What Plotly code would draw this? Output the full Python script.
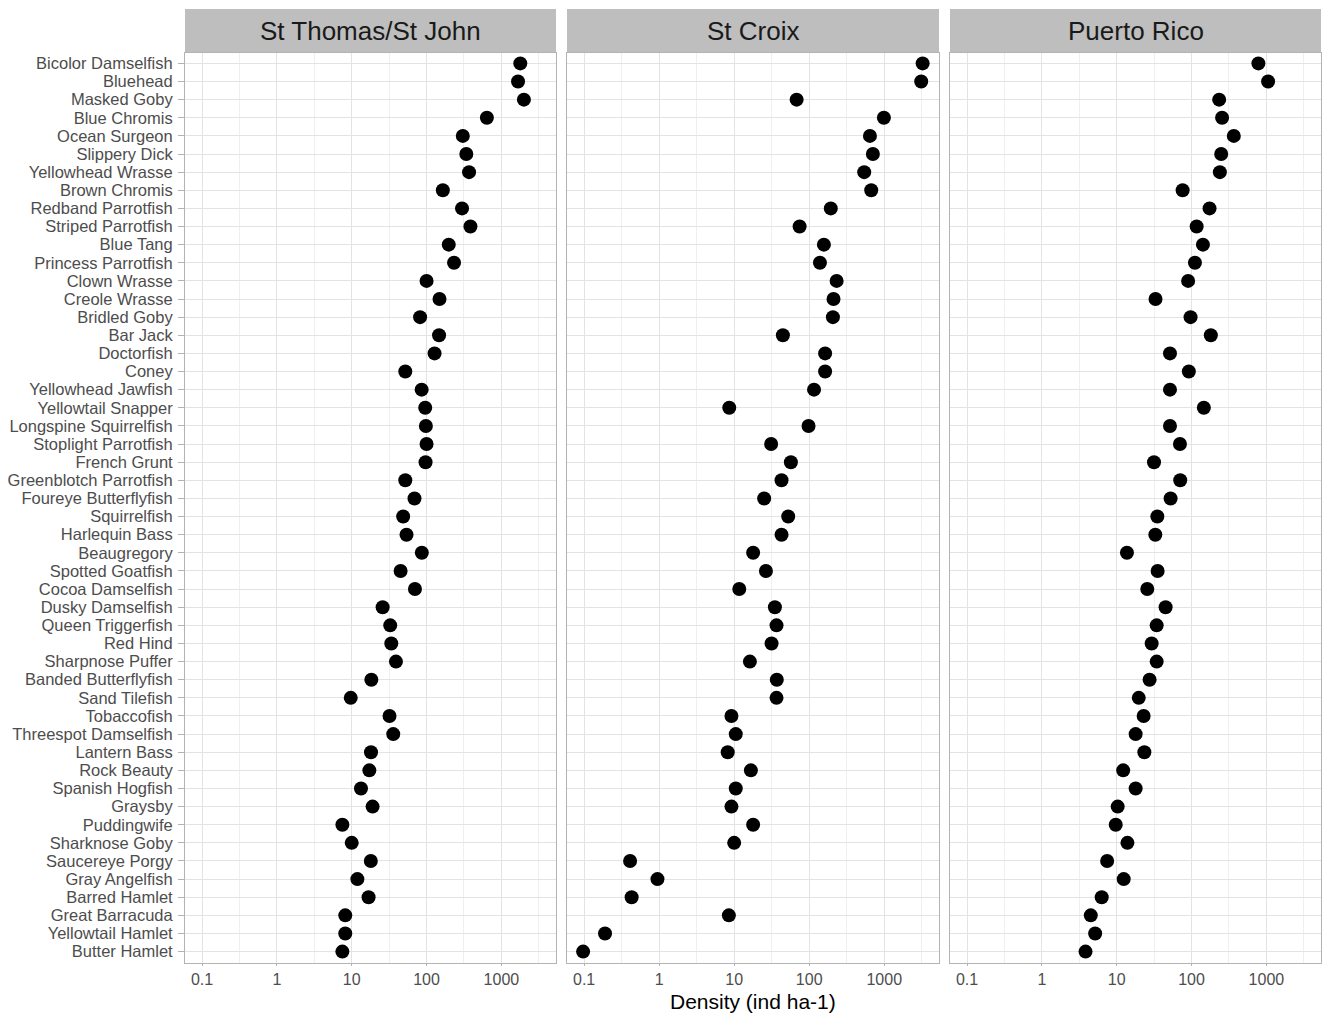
import plotly.graph_objects as go

species = ["Bicolor Damselfish", "Bluehead", "Masked Goby", "Blue Chromis", "Ocean Surgeon",
           "Slippery Dick", "Yellowhead Wrasse", "Brown Chromis", "Redband Parrotfish", "Striped Parrotfish",
           "Blue Tang", "Princess Parrotfish", "Clown Wrasse", "Creole Wrasse", "Bridled Goby",
           "Bar Jack", "Doctorfish", "Coney", "Yellowhead Jawfish", "Yellowtail Snapper",
           "Longspine Squirrelfish", "Stoplight Parrotfish", "French Grunt", "Greenblotch Parrotfish", "Foureye Butterflyfish",
           "Squirrelfish", "Harlequin Bass", "Beaugregory", "Spotted Goatfish", "Cocoa Damselfish",
           "Dusky Damselfish", "Queen Triggerfish", "Red Hind", "Sharpnose Puffer", "Banded Butterflyfish",
           "Sand Tilefish", "Tobaccofish", "Threespot Damselfish", "Lantern Bass", "Rock Beauty",
           "Spanish Hogfish", "Graysby", "Puddingwife", "Sharknose Goby", "Saucereye Porgy",
           "Gray Angelfish", "Barred Hamlet", "Great Barracuda", "Yellowtail Hamlet", "Butter Hamlet"]

st_thomas_st_john = [1790, 1670, 2000, 640, 305, 340, 370, 165, 298, 386,
                     198, 233, 100, 149, 82, 147, 128, 52, 86, 96,
                     98, 100, 97, 52, 69, 48.7, 54, 86.5, 45, 70,
                     25.9, 32.7, 33.8, 39, 18.3, 9.7, 32, 35.9, 18.1, 17.2,
                     13.3, 19, 7.5, 10, 18, 11.9, 16.8, 8.2, 8.2, 7.5]

st_croix = [3250, 3110, 68, 990, 645, 706, 541, 671, 194, 74.5,
            157, 139, 232, 211, 207, 44.6, 163, 163, 116, 8.6,
            98, 31.1, 57, 42.8, 25.1, 52.5, 42.8, 17.9, 26.5, 11.7,
            34.9, 36.7, 31.5, 16.2, 37, 36.7, 9.2, 10.5, 8.2, 16.7,
            10.5, 9.2, 17.9, 10, 0.41, 0.95, 0.43, 8.5, 0.19, 0.097]

puerto_rico = [782, 1054, 234, 256, 367, 249, 239, 76, 174, 117,
               142, 111, 90, 33, 97, 181, 51.5, 92, 51.5, 146,
               51.5, 70, 31.5, 70.6, 52.5, 34.9, 32.8, 13.7, 35.2, 25.6,
               45, 34.2, 29.3, 34.2, 27.5, 19.7, 22.9, 17.9, 23.4, 12.2,
               17.9, 10.3, 9.7, 13.9, 7.45, 12.4, 6.3, 4.5, 5.15, 3.83]

sites = ["St Thomas/St John", "St Croix", "Puerto Rico"]
site_values = [st_thomas_st_john, st_croix, puerto_rico]

x_tick_vals = [0.1, 1, 10, 100, 1000]
x_tick_text = ["0.1", "1", "10", "100", "1000"]
x_minor_vals = [0.316, 3.16, 31.6, 316, 3162]

W, H = 1323, 1017
panels_px = [(185, 556), (567, 939), (950, 1321)]
plot_top, plot_bot = 52.5, 962.5
strip_top = 9


def fx(px):
    return px / W


def fy(py):
    return 1 - py / H


FONT = "Liberation Sans, Arial, sans-serif"
BORDER = "#b3b3b3"
GRID = "#e3e3e3"
MINOR = "#efefef"

fig = go.Figure()
layout = dict(
    width=W, height=H,
    margin=dict(l=0, r=0, t=0, b=0),
    paper_bgcolor="white", plot_bgcolor="white",
    font=dict(family=FONT, color="#4d4d4d"),
    showlegend=False,
    shapes=[], annotations=[],
)

ydom = [fy(plot_bot), fy(plot_top)]
for i, (site, vals) in enumerate(zip(sites, site_values)):
    n = "" if i == 0 else str(i + 1)
    fig.add_trace(go.Scatter(
        x=vals, y=species, mode="markers",
        marker=dict(color="black", size=14, line=dict(width=0)),
        xaxis="x" + n, yaxis="y" + n, name=site,
        hovertemplate="%{y}: %{x}<extra>" + site + "</extra>",
    ))
    x0, x1 = panels_px[i]
    layout["xaxis" + n] = dict(
        type="log", range=[-1.228, 3.73], domain=[fx(x0), fx(x1)], anchor="y" + n,
        tickmode="array", tickvals=x_tick_vals, ticktext=x_tick_text,
        ticks="outside", ticklen=2, tickcolor=BORDER, tickwidth=1,
        tickfont=dict(size=16, color="#4d4d4d", family=FONT),
        showgrid=True, gridcolor=GRID, gridwidth=1,
        minor=dict(tickmode="array", tickvals=x_minor_vals, showgrid=True,
                   gridcolor=MINOR, gridwidth=1, ticks=""),
        showline=True, linecolor=BORDER, linewidth=1, mirror=True,
        zeroline=False, automargin=False, fixedrange=True,
    )
    layout["yaxis" + n] = dict(
        type="category", categoryorder="array", categoryarray=species,
        range=[49.6, -0.6], domain=ydom, anchor="x" + n,
        tickmode="array", tickvals=species, ticktext=species,
        showticklabels=(i == 0), ticks="outside" if i == 0 else "",
        ticklen=6, tickcolor=BORDER, ticklabelstandoff=2,
        tickfont=dict(size=16.5, color="#4d4d4d", family=FONT),
        showgrid=True, gridcolor=GRID, gridwidth=1,
        showline=True, linecolor=BORDER, linewidth=1, mirror=True,
        zeroline=False, automargin=False, fixedrange=True,
    )
    layout["shapes"].append(dict(
        type="rect", xref="paper", yref="paper",
        x0=fx(x0), x1=fx(x1), y0=fy(plot_top), y1=fy(strip_top),
        fillcolor="#bebebe", line=dict(width=0), layer="below",
    ))
    layout["annotations"].append(dict(
        text=site, xref="paper", yref="paper",
        x=fx((x0 + x1) / 2), y=fy((plot_top + strip_top) / 2),
        xanchor="center", yanchor="middle", showarrow=False,
        font=dict(size=26, color="#1a1a1a", family=FONT),
    ))

layout["annotations"].append(dict(
    text="Density (ind ha-1)", xref="paper", yref="paper",
    x=fx((panels_px[1][0] + panels_px[1][1]) / 2), y=fy(1001),
    xanchor="center", yanchor="middle", showarrow=False,
    font=dict(size=21, color="black", family=FONT),
))

fig.update_layout(**layout)
# remove the browser's default 8px body margin so the figure fills the window exactly
fig.write_html("out.html",
               config={"displayModeBar": False},
               post_script="document.body.style.margin='0';document.body.style.overflow='hidden';")
